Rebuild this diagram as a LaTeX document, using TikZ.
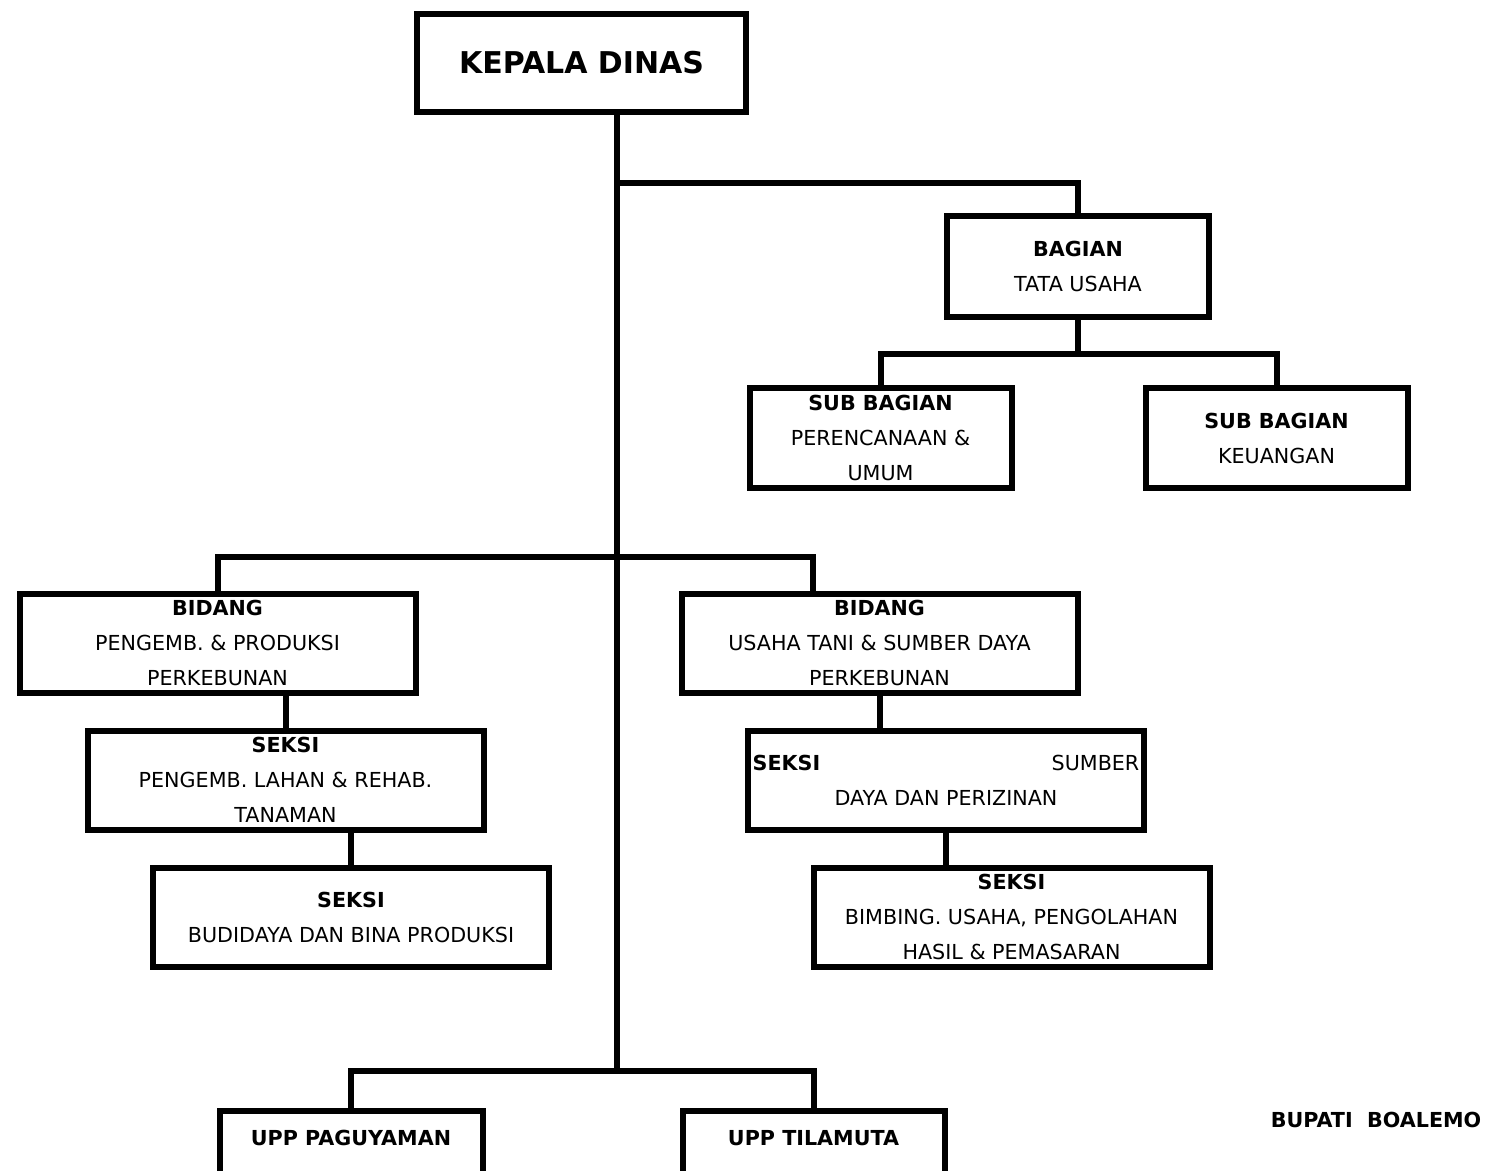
\documentclass[tikz,border=0pt]{standalone}
\usepackage{fontspec}
\setmainfont{DejaVu Sans}
\begin{document}
\begin{tikzpicture}[x=0.75pt,y=-0.75pt,
  box/.style={draw,line width=4.5pt,inner sep=0pt,align=center,
    font=\fontsize{15.5}{26.25}\selectfont},
  conn/.style={line width=4.5pt},
  bx/.style={box,minimum width=297pt,minimum height=74.25pt},
  sx/.style={box,minimum width=196.5pt,minimum height=75.5pt}]
\useasboundingbox (0,0) rectangle (1487,1170);
\clip (0,0) rectangle (1487,1170);

\node[box,minimum width=246.75pt,minimum height=73.5pt,font=\fontsize{22.5}{27}\selectfont\bfseries] (kd) at (581.5,63) {KEPALA DINAS};
\node[sx] (tu) at (1078,266.5) {\textbf{BAGIAN}\\TATA USAHA};
\node[sx] (sb1) at (880.5,438) {\textbf{SUB BAGIAN}\\PERENCANAAN \&\\UMUM};
\node[sx] (sb2) at (1276.5,438) {\textbf{SUB BAGIAN}\\KEUANGAN};
\node[bx] (bid1) at (217.5,643) {\textbf{BIDANG}\\PENGEMB. \& PRODUKSI\\PERKEBUNAN};
\node[bx] (sk1) at (285.5,780) {\textbf{SEKSI}\\PENGEMB. LAHAN \& REHAB.\\TANAMAN};
\node[bx] (sk2) at (351,917) {\textbf{SEKSI}\\BUDIDAYA DAN BINA PRODUKSI};
\node[bx] (bid2) at (879.5,643) {\textbf{BIDANG}\\USAHA TANI \& SUMBER DAYA\\PERKEBUNAN};
\node[bx] (sk3) at (946,780) {\makebox[290pt]{\textbf{SEKSI}\hfill SUMBER}\\DAYA DAN PERIZINAN};
\node[bx] (sk4) at (1011.5,917) {\textbf{SEKSI}\\BIMBING. USAHA, PENGOLAHAN\\HASIL \& PEMASARAN};
\node[box,minimum width=197.25pt,minimum height=75pt,anchor=north] (upp1) at (351,1108) {};
\node[box,minimum width=196.5pt,minimum height=75pt,anchor=north] (upp2) at (813.5,1108) {};
\node[font=\fontsize{15.5}{18}\selectfont\bfseries] (upp1t) at (351,1138) {UPP PAGUYAMAN};
\node[font=\fontsize{15.5}{18}\selectfont\bfseries] (upp2t) at (813.5,1138) {UPP TILAMUTA};
\node[font=\fontsize{15.5}{18}\selectfont\bfseries] (bup) at (1376,1120) {BUPATI\ \ BOALEMO};

\coordinate (t) at (617,0);
\coordinate (j0) at (617,183);
\coordinate (j2) at (617,557);
\coordinate (j2r) at (813,557);
\coordinate (j3) at (617,1071);

\draw[conn] (kd.south -| t) -- (j3);
\draw[conn] (j0) -| (tu.north);
\draw[conn] (tu.south) -- ++(0,34) coordinate (j1);
\draw[conn] (sb1.north) |- (j1) -| (sb2.north);
\draw[conn] (bid1.north) |- (j2r) -- (bid2.north -| j2r);
\draw[conn] (sk1.north |- bid1.south) -- (sk1.north);
\draw[conn] (sk2.north |- sk1.south) -- (sk2.north);
\draw[conn] (bid2.south) -- (bid2.south |- sk3.north);
\draw[conn] (sk3.south) -- (sk3.south |- sk4.north);
\draw[conn] (upp1.north) |- (j3) -| (upp2.north);
\end{tikzpicture}
\end{document}
